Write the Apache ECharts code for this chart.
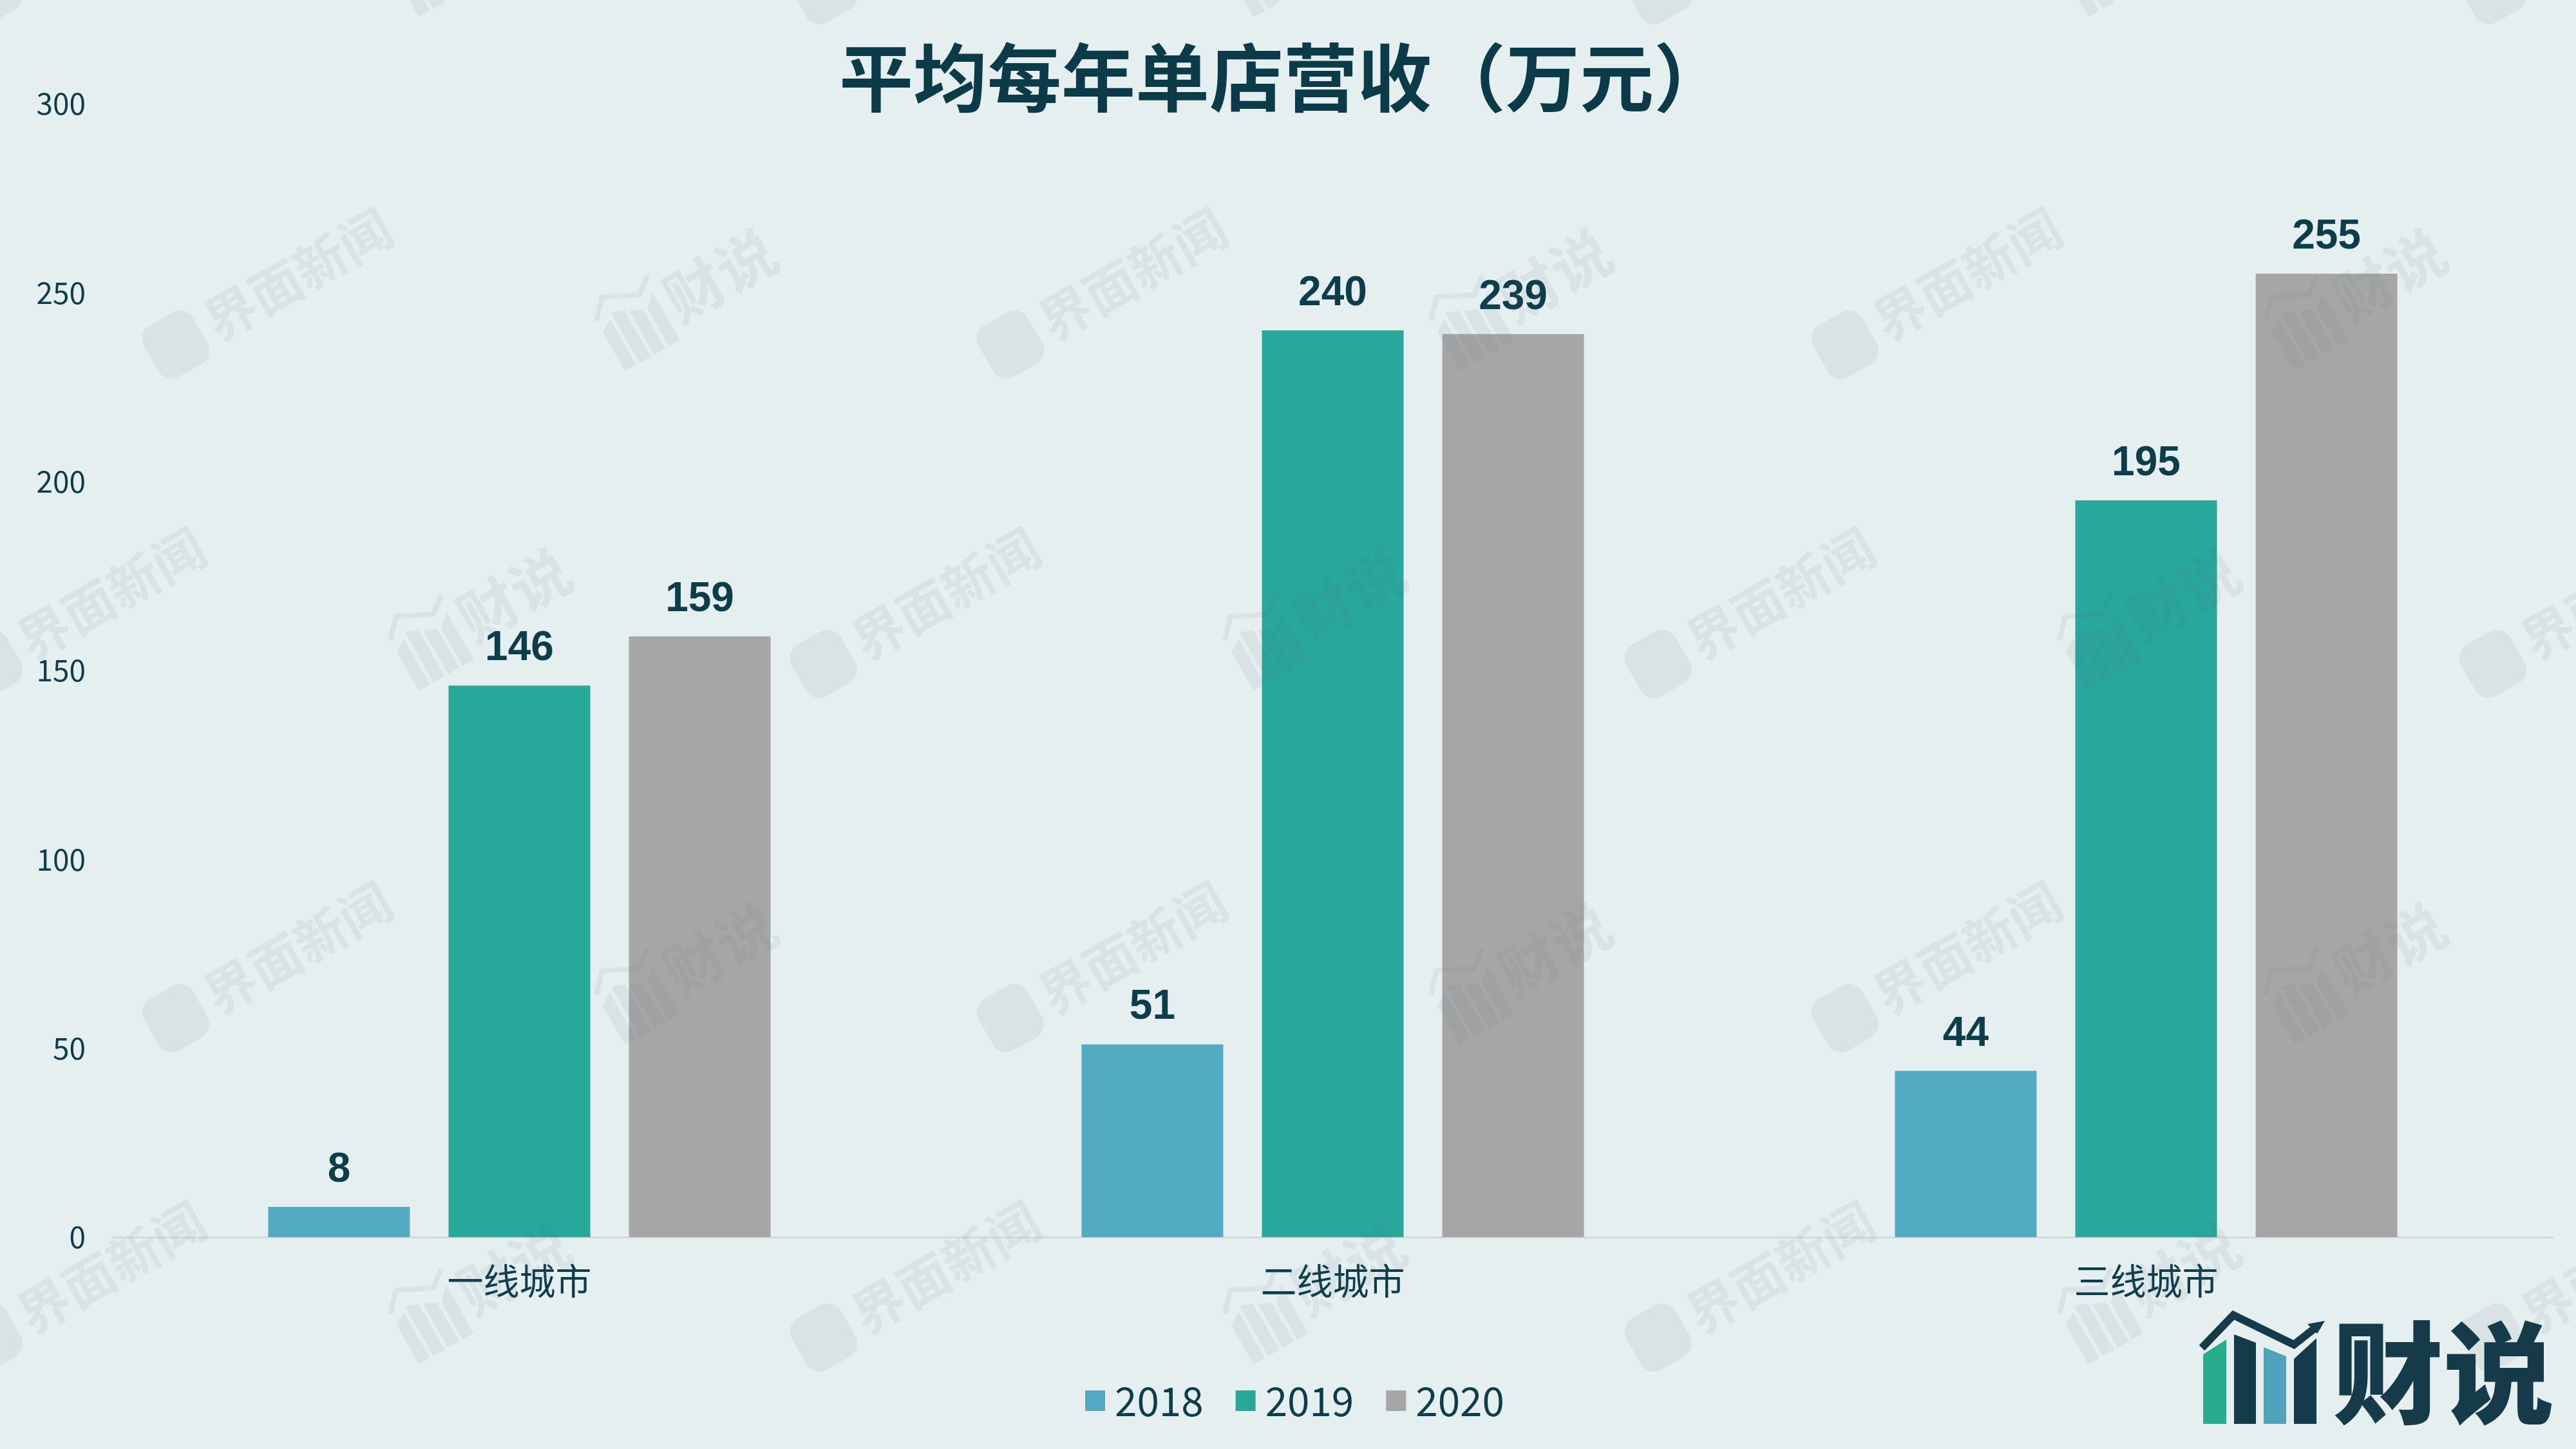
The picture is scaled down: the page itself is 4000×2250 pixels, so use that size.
<!DOCTYPE html>
<html><head><meta charset="utf-8">
<script src="https://cdn.jsdelivr.net/npm/echarts@6/dist/echarts.min.js"></script>
<style>html,body{margin:0;padding:0;background:#e6eff0}#c{width:4000px;height:2250px}</style>
</head><body><div id="c"></div>
<script>
// ---- data ----
const categories = ['一线城市', '二线城市', '三线城市'];
const seriesNames = ['2018', '2019', '2020'];
const values2018 = [8, 51, 44];
const values2019 = [146, 240, 195];
const values2020 = [159, 239, 255];
const yTicks = [0, 50, 100, 150, 200, 250, 300];
const titleText = '平均每年单店营收（万元）';

// ---- styles ----
const colors = ['#53aac3', '#28a79b', '#a6a6a6'];
const dark = '#0d3c4b';
const wmColor = 'rgba(90,115,125,0.09)';
const CJK = '"Noto Sans CJK SC", "Noto Sans", sans-serif';

const chart = echarts.init(document.getElementById('c'), null, {renderer: 'canvas'});

function wmJiemian(x, y) {
  return {
    type: 'group', x: x, y: y, rotation: 0.52, z: 50,
    children: [
      {type: 'rect', z: 50, shape: {x: -225, y: -46, width: 88, height: 92, r: 24}, style: {fill: wmColor}},
      {type: 'text', z: 50, x: -122, y: 0, style: {text: '界面新闻', fill: wmColor, font: 'bold 80px ' + CJK, verticalAlign: 'middle', align: 'left'}}
    ]
  };
}
function wmCaishuo(x, y) {
  return {
    type: 'group', x: x, y: y, rotation: 0.52, z: 50,
    children: [
      {type: 'polygon', z: 50, shape: {points: [[-150, -10], [-130, -22], [-130, 60], [-150, 60]]}, style: {fill: wmColor}},
      {type: 'polygon', z: 50, shape: {points: [[-124, -30], [-104, -22], [-104, 60], [-124, 60]]}, style: {fill: wmColor}},
      {type: 'polygon', z: 50, shape: {points: [[-98, -18], [-78, -10], [-78, 60], [-98, 60]]}, style: {fill: wmColor}},
      {type: 'polygon', z: 50, shape: {points: [[-72, -6], [-52, -26], [-52, 60], [-72, 60]]}, style: {fill: wmColor}},
      {type: 'polyline', z: 50, shape: {points: [[-150, -30], [-124, -58], [-72, -32], [-46, -52]]}, style: {stroke: wmColor, lineWidth: 8, fill: null}},
      {type: 'text', z: 50, x: -40, y: 4, style: {text: '财说', fill: wmColor, font: 'bold 92px ' + CJK, verticalAlign: 'middle', align: 'left'}}
    ]
  };
}

const graphics = [];
for (let k = -1; k <= 2; k++) {
  for (let j = -1; j <= 3; j++) {
    const dx = j * 1296, dy = k * 1046;
    graphics.push(wmJiemian(430 + dx, 445 + dy));
    graphics.push(wmCaishuo(1071 + dx, 450 + dy));
    graphics.push(wmJiemian(430 - 290 + dx, 445 + 496 + dy));
    graphics.push(wmCaishuo(1071 - 320 + dx, 450 + 496 + dy));
  }
}

// bottom-right logo
const logoDark = '#153a4a';
graphics.push(
  {type: 'polygon', z: 60, shape: {points: [[3421, 2103], [3457, 2080], [3457, 2211], [3421, 2211]]}, style: {fill: '#27ad8e'}},
  {type: 'polygon', z: 60, shape: {points: [[3469, 2072], [3503, 2085], [3503, 2211], [3469, 2211]]}, style: {fill: logoDark}},
  {type: 'polygon', z: 60, shape: {points: [[3515, 2092], [3550, 2106], [3550, 2211], [3515, 2211]]}, style: {fill: '#4fa4bc'}},
  {type: 'polygon', z: 60, shape: {points: [[3562, 2110], [3597, 2078], [3597, 2211], [3562, 2211]]}, style: {fill: logoDark}},
  {type: 'polyline', z: 60, shape: {points: [[3419, 2093], [3468, 2042], [3562, 2088], [3600, 2058]]}, style: {stroke: logoDark, lineWidth: 12, fill: null, lineJoin: 'miter'}},
  {type: 'polygon', z: 60, shape: {points: [[3610, 2051], [3583, 2056], [3598, 2071]]}, style: {fill: logoDark}},
  {type: 'text', z: 60, x: 3622, y: 2132, style: {text: '财说', fill: logoDark, font: '900 172px ' + CJK, verticalAlign: 'middle', align: 'left'}}
);

function makeSeries(name, data, color) {
  return {
    name: name, type: 'bar', data: data,
    barWidth: 220, barGap: '27.3%',
    itemStyle: {color: color},
    label: {
      show: true, position: 'top', distance: 25,
      color: dark, fontSize: 64, fontWeight: 'bold',
      fontFamily: '"Liberation Sans", Arial, sans-serif'
    }
  };
}

const option = {
  backgroundColor: '#e6eff0',
  animation: false,
  title: {
    text: titleText, left: 1298, top: 58,
    textStyle: {color: '#0b3a48', fontSize: 115, fontWeight: 'bold', fontFamily: CJK}
  },
  legend: {
    data: seriesNames, left: 1680, top: 2139,
    icon: 'rect', itemWidth: 31, itemHeight: 32, itemGap: 50,
    textStyle: {color: dark, fontSize: 62, fontFamily: CJK, padding: [0, 0, 0, 10]}
  },
  grid: {left: 175, right: 36, top: 161, bottom: 329, containLabel: false},
  xAxis: {
    type: 'category', data: categories,
    axisLine: {show: true, lineStyle: {color: '#d6d9d9', width: 3}},
    axisTick: {show: false},
    axisLabel: {color: dark, fontSize: 56, fontFamily: CJK, margin: 40}
  },
  yAxis: {
    type: 'value', min: yTicks[0], max: yTicks[yTicks.length - 1], interval: 50,
    axisLine: {show: false}, axisTick: {show: false}, splitLine: {show: false},
    axisLabel: {color: dark, fontSize: 46, fontFamily: CJK, margin: 42}
  },
  series: [
    makeSeries(seriesNames[0], values2018, colors[0]),
    makeSeries(seriesNames[1], values2019, colors[1]),
    makeSeries(seriesNames[2], values2020, colors[2])
  ],
  graphic: graphics
};
chart.setOption(option);
</script>
</body></html>
